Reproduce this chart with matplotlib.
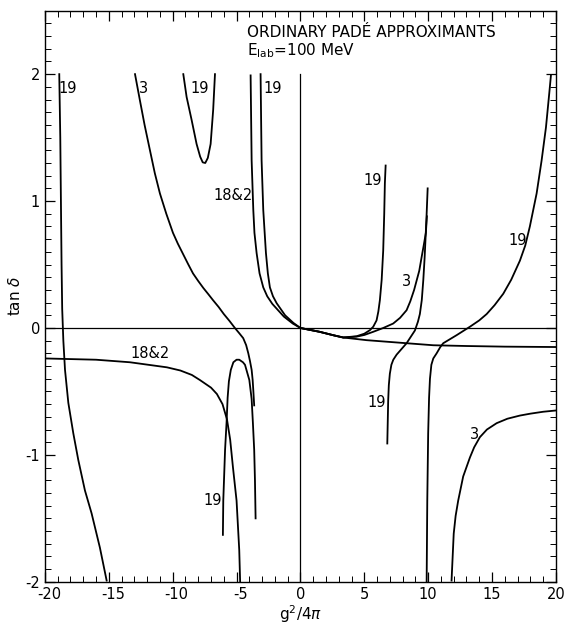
import matplotlib
matplotlib.use('Agg')
import matplotlib.pyplot as plt
import matplotlib.transforms as mtransforms
from matplotlib.ticker import MultipleLocator

plt.rcParams['axes.unicode_minus'] = False
plt.rcParams['font.family'] = 'DejaVu Sans'

# ---- curves (x = g^2/4pi, y = tan delta) ----
# "19", left pole near -19
x19_a = [-18.88, -18.8, -18.75, -18.7, -18.65, -18.56, -18.43, -18.17, -17.78, -17.39, -16.87, -16.35, -15.7, -15.17]
y19_a = [2.0, 1.5, 1.0, 0.5, 0.15, -0.1, -0.33, -0.59, -0.83, -1.04, -1.28, -1.46, -1.73, -1.99]

# "18&2", lower left branch
x182_a = [-20, -16, -13.35, -10.45, -9.4, -8.5, -7.87, -7.0, -6.54, -6.1, -5.75, -5.5, -5.28, -5.0, -4.79, -4.72]
y182_a = [-0.24, -0.25, -0.27, -0.31, -0.335, -0.37, -0.41, -0.47, -0.52, -0.6, -0.72, -0.88, -1.10, -1.36, -1.75, -2.0]

# "3", left branch
x3_a = [-12.95, -12.56, -12.2, -11.78, -11.4, -11.0, -10.5, -9.98, -9.6, -9.2, -8.8, -8.41, -8.0, -7.6, -7.2,
        -6.85, -6.4, -6.0, -5.55, -5.13, -4.8, -4.48, -4.25, -4.08, -3.95, -3.82, -3.74, -3.69, -3.62]
y3_a = [2.0, 1.79, 1.60, 1.40, 1.22, 1.06, 0.90, 0.75, 0.665, 0.585, 0.505, 0.43, 0.37, 0.315, 0.265,
        0.22, 0.165, 0.11, 0.055, 0.0, -0.04, -0.08, -0.135, -0.2, -0.26, -0.33, -0.41, -0.49, -0.61]

# "19", inverted U near -5
x19_b = [-6.07, -6.04, -5.9, -5.78, -5.7, -5.6, -5.45, -5.25, -5.0, -4.79, -4.5, -4.34, -4.0, -3.82, -3.72, -3.62, -3.56, -3.51]
y19_b = [-1.63, -1.36, -0.96, -0.74, -0.55, -0.42, -0.33, -0.27, -0.25, -0.25, -0.27, -0.29, -0.41, -0.56, -0.75, -0.96, -1.2, -1.5]

# "19", U near -7.5
x19_c = [-9.17, -8.91, -8.52, -8.13, -7.85, -7.65, -7.45, -7.25, -7.03, -6.83, -6.69]
y19_c = [2.0, 1.82, 1.64, 1.45, 1.35, 1.305, 1.30, 1.34, 1.45, 1.72, 2.0]

# "18&2", upper branch through origin to the right edge
x182_b = [-3.9, -3.82, -3.69, -3.6, -3.43, -3.2, -2.91, -2.6, -2.2, -1.3, -0.6, 0, 1.5, 2.57, 3.35, 5.18, 7.0, 10.4, 13.0, 16.0, 20.0]
y182_b = [1.99, 1.32, 0.93, 0.75, 0.59, 0.43, 0.32, 0.25, 0.19, 0.09, 0.035, 0, -0.03, -0.057, -0.075, -0.096, -0.11, -0.136, -0.142, -0.147, -0.15]

# "19", from top near -3, through origin, up again near 6.7
x19_d = [-3.12, -3.04, -2.91, -2.8, -2.7, -2.55, -2.39, -2.15, -1.86, -1.2, -0.55, 0, 1.5, 2.57, 3.35, 4.4, 5.0, 5.44, 5.7, 5.96, 6.1, 6.22, 6.36, 6.48, 6.56, 6.61, 6.67]
y19_d = [2.0, 1.32, 0.93, 0.75, 0.59, 0.43, 0.32, 0.25, 0.195, 0.10, 0.04, 0, -0.03, -0.057, -0.075, -0.065, -0.045, -0.017, 0.01, 0.06, 0.13, 0.22, 0.38, 0.61, 0.9, 1.14, 1.28]

# "3", right of origin up to ~10
x3_b = [0, 1.5, 2.57, 3.35, 4.4, 5.0, 5.7, 6.48, 7.26, 7.8, 8.31, 8.6, 8.9, 9.3, 9.49, 9.65, 9.82, 9.9]
y3_b = [0, -0.03, -0.057, -0.075, -0.068, -0.055, -0.03, 0.0, 0.035, 0.08, 0.14, 0.21, 0.3, 0.45, 0.56, 0.65, 0.75, 0.88]

# "19", from -0.9 at ~7 rising to ~10
x19_e = [6.8, 6.87, 6.92, 7.0, 7.12, 7.27, 7.53, 8.05, 8.31, 8.96, 9.2, 9.35, 9.5, 9.62, 9.72, 9.8, 9.88, 9.96]
y19_e = [-0.91, -0.57, -0.45, -0.36, -0.29, -0.25, -0.21, -0.15, -0.12, -0.02, 0.05, 0.11, 0.22, 0.38, 0.55, 0.72, 0.9, 1.1]

# "19", right pole near 10 rising to top right
x19_f = [9.88, 9.93, 10.0, 10.07, 10.14, 10.25, 10.4, 10.66, 10.95, 11.18, 12.22, 13.27, 14.0, 14.58, 15.2, 15.88,
         16.5, 17.18, 17.6, 17.96, 18.49, 18.88, 19.22, 19.48, 19.61]
y19_f = [-2.0, -1.36, -0.83, -0.55, -0.4, -0.29, -0.24, -0.2, -0.15, -0.12, -0.057, 0.01, 0.06, 0.11, 0.18, 0.27,
         0.38, 0.53, 0.65, 0.80, 1.06, 1.32, 1.58, 1.85, 1.99]

# "3", lower right
x3_c = [11.83, 12.0, 12.15, 12.35, 12.74, 13.27, 13.6, 14.05, 14.6, 15.36, 16.2, 17.18, 18.0, 19.0, 20.0]
y3_c = [-1.99, -1.62, -1.48, -1.36, -1.17, -1.02, -0.94, -0.86, -0.8, -0.75, -0.715, -0.69, -0.675, -0.66, -0.65]

curves = [(x19_a, y19_a), (x182_a, y182_a), (x3_a, y3_a), (x19_b, y19_b), (x19_c, y19_c),
          (x182_b, y182_b), (x19_d, y19_d), (x3_b, y3_b), (x19_e, y19_e), (x19_f, y19_f), (x3_c, y3_c)]

# curve labels: text, x, y
labels = [('19', -18.2, 1.89), ('3', -12.3, 1.89), ('19', -7.85, 1.89), ('19', -2.2, 1.89),
          ('18&2', -5.3, 1.04), ('18&2', -11.8, -0.2), ('19', -6.85, -1.36), ('19', 5.67, 1.16),
          ('3', 8.34, 0.37), ('19', 17.0, 0.69), ('19', 6.0, -0.59), ('3', 13.66, -0.84)]

xticks = [-20, -15, -10, -5, 0, 5, 10, 15, 20]
yticks = [-2, -1, 0, 1, 2]

fig = plt.figure(figsize=(5.69, 6.29), dpi=100)
ax = fig.add_axes([0.079, 0.075, 0.898, 0.908])

for xs, ys in curves:
    ax.plot(xs, ys, color='black', lw=1.3, solid_joinstyle='round')

ax.axhline(0, color='black', lw=0.9)
ax.plot([0, 0], [-2, 2], color='black', lw=0.9)

for t, x, y in labels:
    ax.text(x, y, t, fontsize=10.5, ha='center', va='center')

ax.text(0.395, 0.954, 'ORDINARY PADÉ APPROXIMANTS', transform=ax.transAxes, fontsize=11)
ax.text(0.395, 0.922, r'E$_{\rm lab}$=100 MeV', transform=ax.transAxes, fontsize=11)

ax.set_xlim(-20, 20)
ax.set_ylim(-2, 2.5)
ax.set_xticks(xticks)
ax.set_xticklabels([str(v) for v in xticks])
ax.xaxis.set_minor_locator(MultipleLocator(1))
ax.set_yticks(yticks)
ax.set_yticklabels([str(v) for v in yticks])
ax.yaxis.set_minor_locator(MultipleLocator(0.1))
ax.tick_params(which='both', direction='in', top=True, right=True, labelsize=10.5)
ax.tick_params(which='major', length=7, width=0.9)
ax.tick_params(which='minor', length=4, width=0.7)
for s in ax.spines.values():
    s.set_linewidth(1.0)

# minus signs hang to the left of the numbers, as in the original lettering
shift = mtransforms.ScaledTranslation(4 / 100, 0, fig.dpi_scale_trans)
for lab, v in zip(ax.get_xticklabels(), xticks):
    if v < 0:
        lab.set_transform(lab.get_transform() + shift)

ax.set_xlabel(r'g$^2$/4$\pi$', fontsize=11, labelpad=1)
ax.set_ylabel(r'tan $\delta$', fontsize=11, labelpad=2)

fig.savefig('out.png', dpi=100)
